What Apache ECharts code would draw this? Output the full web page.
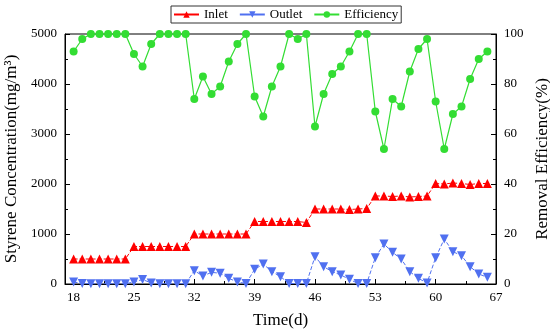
<!DOCTYPE html>
<html>
<head>
<meta charset="utf-8">
<script src="https://cdn.jsdelivr.net/npm/echarts@6/dist/echarts.min.js"></script>
<style>html,body{margin:0;padding:0;background:#fff}#c{width:550px;height:333px}</style>
</head>
<body>
<div id="c"></div>
<script>
var days = [18,19,20,21,22,23,24,25,26,27,28,29,30,31,32,33,34,35,36,37,38,39,40,41,42,43,44,45,46,47,48,49,50,51,52,53,54,55,56,57,58,59,60,61,62,63,64,65,66];
var inlet = [500,500,500,500,500,500,500, 750,750,750,750,750,750,750, 1000,1000,1000,1000,1000,1000,1000, 1250,1250,1250,1250,1250,1250,1230, 1500,1500,1500,1500,1490,1500,1510, 1760,1760,1750,1760,1740,1750,1760, 2010,2000,2020,2010,1990,2010,2010];
var outlet = [40,10,5,5,5,5,5, 40,90,20,5,5,5,5, 267,160,233,215,113,40,10, 293,400,247,147,10,10,10, 547,347,247,180,93,10,10, 527,800,633,500,247,113,20, 527,900,647,567,347,200,133];
var efficiency = [93,98,100,100,100,100,100, 92,87,96,100,100,100,100, 74,83,76,79,89,96,100, 75,67,79,87,100,98,100, 63,76,84,87,93,100,100, 69,54,74,71,85,94,98, 73,54,68,71,82,90,93];
var xTicks = [18,25,32,39,46,53,60,67];
var xMinor = [21.5,28.5,35.5,42.5,49.5,56.5,63.5];

function pairs(v){ return days.map(function(d,i){ return [d, v[i]]; }); }
var FONT = 'Liberation Serif';
var chart = echarts.init(document.getElementById('c'), null, {renderer:'canvas'});
chart.setOption({
  animation:false,
  textStyle:{fontFamily:FONT},
  grid:{left:65, right:54, top:34, bottom:49, containLabel:false, outerBoundsMode:'none', show:true, borderColor:'#000', borderWidth:1, backgroundColor:'transparent'},
  legend:{
    top:6, left:171,
    data:['Inlet','Outlet','Efficiency'],
    borderColor:'#333', borderWidth:1, padding:[2,3,2,2],
    itemWidth:25, itemHeight:8, itemGap:11,
    lineStyle:{type:'solid'},
    textStyle:{fontFamily:FONT, fontSize:13, color:'#000'}
  },
  xAxis:[{
    type:'value', min:17, max:67,
    name:'Time(d)', nameLocation:'middle', nameGap:28,
    nameTextStyle:{fontFamily:FONT, fontSize:17, color:'#000'},
    axisLine:{show:true, onZero:false, lineStyle:{color:'#000'}},
    axisTick:{show:true, inside:true, length:5, customValues:xTicks, lineStyle:{color:'#000'}},
    axisLabel:{show:true, customValues:xTicks, fontFamily:FONT, fontSize:13, color:'#000', margin:7},
    splitLine:{show:false}
  },{
    type:'value', min:17, max:67, position:'bottom',
    axisLine:{show:false},
    axisTick:{show:true, inside:true, length:3, customValues:xMinor, lineStyle:{color:'#000'}},
    axisLabel:{show:false, customValues:xMinor},
    splitLine:{show:false}
  }],
  yAxis:[{
    type:'value', min:0, max:5000, interval:1000, position:'left',
    name:'Styrene Concentration(mg/m³)', nameLocation:'middle', nameGap:43,
    nameTextStyle:{fontFamily:FONT, fontSize:17, color:'#000'},
    axisLine:{show:true, lineStyle:{color:'#000'}},
    axisTick:{show:true, inside:true, length:5, lineStyle:{color:'#000'}},
    minorTick:{show:true, splitNumber:2, length:3, lineStyle:{color:'#000'}},
    axisLabel:{fontFamily:FONT, fontSize:13, color:'#000', margin:8, formatter:function(v){return String(v);}},
    splitLine:{show:false}
  },{
    type:'value', min:0, max:100, interval:20, position:'right',
    name:'Removal Efficiency(%)', nameLocation:'middle', nameGap:38, nameRotate:90,
    nameTextStyle:{fontFamily:FONT, fontSize:17, color:'#000'},
    axisLine:{show:true, lineStyle:{color:'#000'}},
    axisTick:{show:true, inside:true, length:5, lineStyle:{color:'#000'}},
    minorTick:{show:true, splitNumber:2, length:3, lineStyle:{color:'#000'}},
    axisLabel:{fontFamily:FONT, fontSize:13, color:'#000', margin:8},
    splitLine:{show:false}
  }],
  series:[{
    name:'Inlet', type:'line', yAxisIndex:0, data:pairs(inlet),
    symbol:'triangle', symbolSize:9, color:'#ff0000',
    itemStyle:{color:'#ff0000'},
    lineStyle:{color:'#ff0000', width:1, type:'dashed'}
  },{
    name:'Outlet', type:'line', yAxisIndex:0, data:pairs(outlet),
    symbol:'triangle', symbolRotate:180, symbolSize:9, color:'#5070f0',
    itemStyle:{color:'#5070f0'},
    lineStyle:{color:'#5070f0', width:1, type:'dashed'}
  },{
    name:'Efficiency', type:'line', yAxisIndex:1, data:pairs(efficiency),
    symbol:'circle', symbolSize:8, color:'#33dd33',
    itemStyle:{color:'#33dd33'},
    lineStyle:{color:'#33dd33', width:1.2}
  }]
});
</script>
</body>
</html>
